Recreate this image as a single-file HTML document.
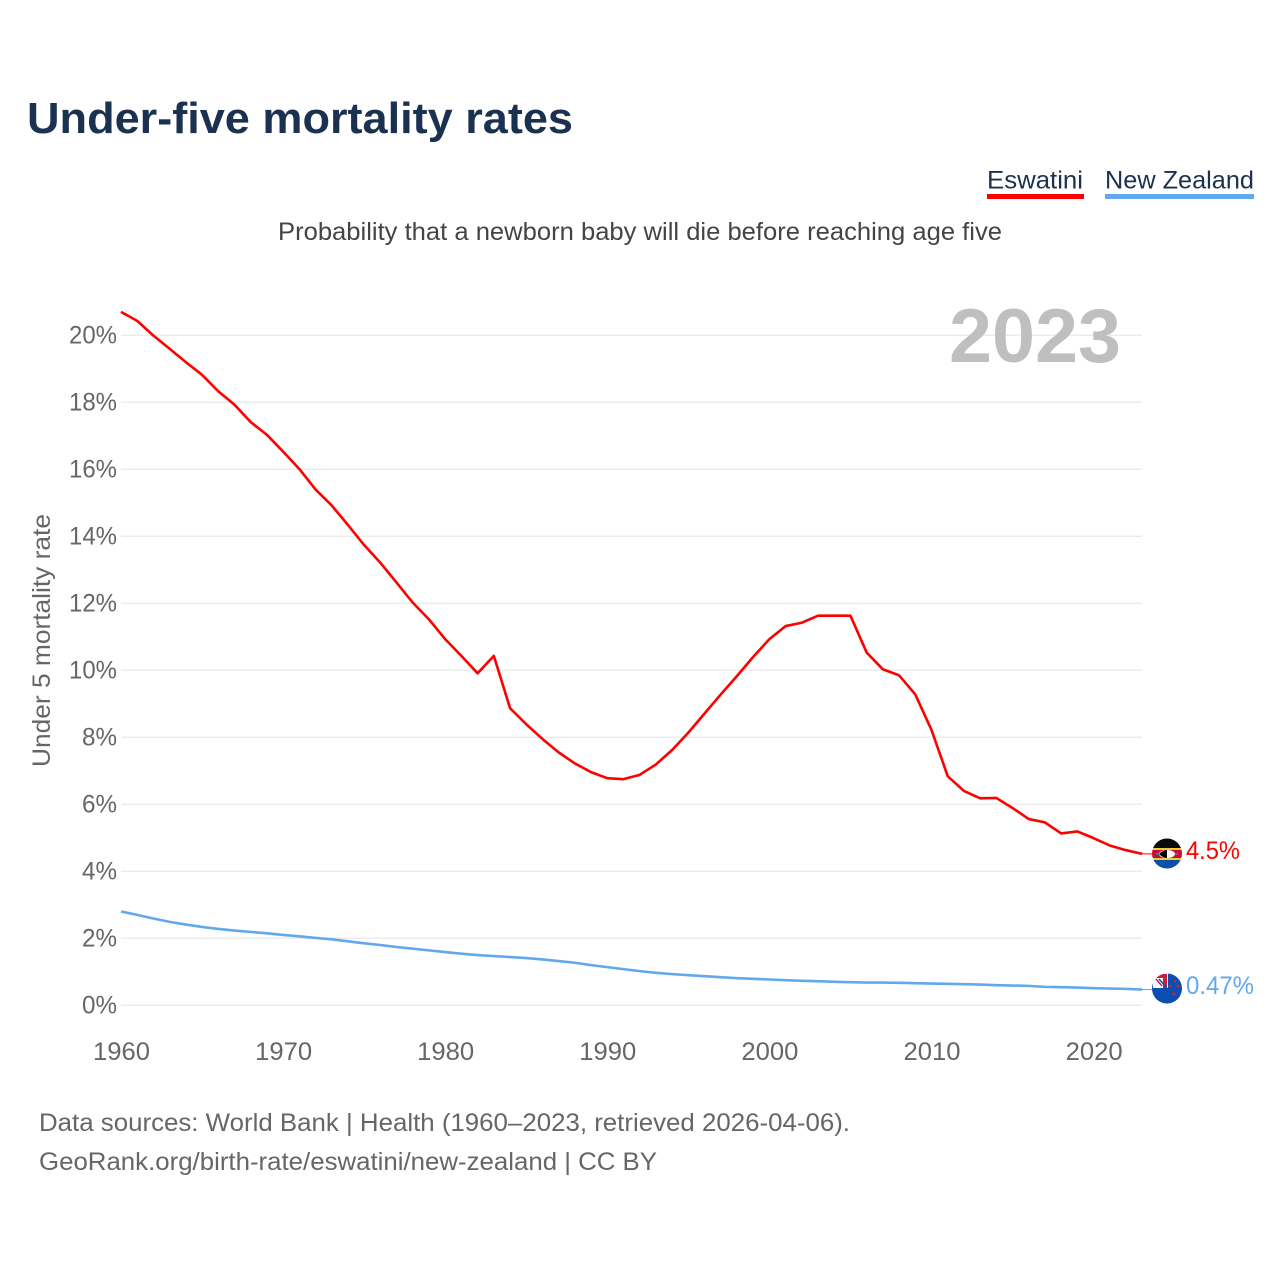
<!DOCTYPE html>
<html lang="en">
<head>
<meta charset="utf-8">
<title>Under-five mortality rates</title>
<style>
html,body{margin:0;padding:0;background:#fff;}
svg{display:block;font-family:"Liberation Sans",sans-serif;}
</style>
</head>
<body>
<svg id="chart" xmlns="http://www.w3.org/2000/svg" width="1280" height="1280" viewBox="0 0 1280 1280">
  <defs>
    <clipPath id="flag-clip-sz"><circle cx="1167" cy="853.5" r="15"/></clipPath>
    <clipPath id="flag-clip-nz"><circle cx="1167" cy="988.5" r="15"/></clipPath>
  </defs>
  <rect x="0" y="0" width="1280" height="1280" fill="#fff"/>
  <text x="27" y="133" font-size="44" font-weight="700" fill="#1a3150" textLength="546" lengthAdjust="spacingAndGlyphs">Under-five mortality rates</text>
  <g>
    <g>
      <text x="987" y="188.5" font-size="25" fill="#1a3150" textLength="96" lengthAdjust="spacingAndGlyphs">Eswatini</text>
      <rect x="987" y="194" width="97" height="5" fill="#ff0000"/>
    </g>
    <g>
      <text x="1105" y="188.5" font-size="25" fill="#1a3150" textLength="149" lengthAdjust="spacingAndGlyphs">New Zealand</text>
      <rect x="1105" y="194" width="149" height="5" fill="#62a8ec"/>
    </g>
  </g>
  <text x="278" y="240" font-size="25" fill="#444" textLength="724" lengthAdjust="spacingAndGlyphs">Probability that a newborn baby will die before reaching age five</text>
  <g id="grid"></g>
  <text x="949" y="362" font-size="76" font-weight="700" fill="#bfbfbf" textLength="172" lengthAdjust="spacingAndGlyphs">2023</text>
  <g id="y-ticks"></g>
  <g id="x-ticks"></g>
  <text transform="translate(50,767) rotate(-90)" x="0" y="0" font-size="25" fill="#666" textLength="253" lengthAdjust="spacingAndGlyphs">Under 5 mortality rate</text>
  <g id="series"></g>

  <g clip-path="url(#flag-clip-sz)">
    <rect x="1150" y="836" width="34" height="12" fill="#0b0b0b"/>
    <rect x="1150" y="848" width="34" height="2" fill="#f5c93a"/>
    <rect x="1150" y="850" width="34" height="8" fill="#c8102e"/>
    <rect x="1150" y="858" width="34" height="2" fill="#f5c93a"/>
    <rect x="1150" y="860" width="34" height="11" fill="#0b4fa8"/>
    <ellipse cx="1167" cy="854" rx="8" ry="4" fill="#fff"/>
    <path d="M1159 854 Q1163 850 1167 850 L1167 858 Q1163 858 1159 854Z" fill="#000"/>
    <rect x="1156" y="853" width="3" height="2" fill="#3a6fb0"/>
    <rect x="1175" y="853" width="3" height="2" fill="#3a6fb0"/>
  </g>
  <g clip-path="url(#flag-clip-nz)">
    <rect x="1150" y="972" width="34" height="34" fill="#0a4fb0"/>
    <rect x="1153" y="973" width="15" height="15" fill="#fff"/>
    <path d="M1153 974 H1167 V988 H1163 V978 H1153Z" fill="#c8203a"/>
    <path d="M1159 979 L1167 988" stroke="#1f4fa0" stroke-width="1.6"/>
    <path d="M1156 979 L1162 986" stroke="#c8203a" stroke-width="1.4"/>
    <circle cx="1170" cy="986" r="1.3" fill="#d0203a"/>
    <circle cx="1175" cy="981" r="1.3" fill="#d0203a"/>
    <circle cx="1178" cy="986" r="1.3" fill="#d0203a"/>
    <circle cx="1174" cy="994" r="1.6" fill="#d0203a"/>
  </g>
  <text x="1186" y="859" font-size="25" fill="#ff0000" textLength="54" lengthAdjust="spacingAndGlyphs">4.5%</text>
  <text x="1186" y="994" font-size="25" fill="#62a8ec" textLength="68" lengthAdjust="spacingAndGlyphs">0.47%</text>

  <text x="39" y="1131" font-size="25" fill="#666" textLength="811" lengthAdjust="spacingAndGlyphs">Data sources: World Bank | Health (1960–2023, retrieved 2026-04-06).</text>
  <text x="39" y="1170" font-size="25" fill="#666" textLength="618" lengthAdjust="spacingAndGlyphs">GeoRank.org/birth-rate/eswatini/new-zealand | CC BY</text>
</svg>
<script>
const startYear = 1960;
const eswatiniValues = [20.70,20.43,19.99,19.60,19.20,18.82,18.33,17.93,17.41,17.03,16.53,16.01,15.40,14.92,14.34,13.74,13.21,12.62,12.02,11.52,10.93,10.43,9.91,10.43,8.87,8.39,7.95,7.55,7.22,6.96,6.78,6.75,6.88,7.19,7.62,8.14,8.71,9.28,9.83,10.40,10.93,11.32,11.42,11.63,11.63,11.63,10.53,10.03,9.85,9.28,8.22,6.84,6.40,6.18,6.19,5.89,5.56,5.46,5.13,5.19,4.99,4.77,4.63,4.52];
const newZealandValues = [2.80,2.70,2.59,2.49,2.41,2.34,2.28,2.23,2.19,2.15,2.10,2.06,2.01,1.97,1.91,1.85,1.80,1.74,1.69,1.64,1.59,1.54,1.50,1.47,1.44,1.41,1.37,1.32,1.27,1.20,1.14,1.08,1.02,0.97,0.93,0.90,0.87,0.84,0.81,0.79,0.77,0.75,0.73,0.72,0.70,0.69,0.68,0.68,0.67,0.66,0.65,0.64,0.63,0.62,0.60,0.59,0.58,0.55,0.54,0.53,0.51,0.50,0.49,0.47];
const yTickValues = [0,2,4,6,8,10,12,14,16,18,20];
const xTickYears = [1960,1970,1980,1990,2000,2010,2020];

const SVG_NS = 'http://www.w3.org/2000/svg';
function xScale(year){ return 121 + (year - 1960) * 16.21; }
function yScale(v){ return 1005.3 - v * 33.5; }
function make(tag, attrs, parent){
  const el = document.createElementNS(SVG_NS, tag);
  for (const k in attrs) el.setAttribute(k, attrs[k]);
  parent.appendChild(el);
  return el;
}

const gridGroup = document.getElementById('grid');
const yGroup = document.getElementById('y-ticks');
yTickValues.forEach(function(v){
  const line = make('line', {x1:121, x2:1142, y1:yScale(v), y2:yScale(v), stroke:'#ececec', 'stroke-width':1.5}, gridGroup);
  
  
  const label = v + '%';
  const width = v >= 10 ? 48 : 35;
  const t = make('text', {x:117 - width, y:yScale(v) + 8, 'font-size':25, fill:'#666', textLength:width, lengthAdjust:'spacingAndGlyphs'}, yGroup);
  t.textContent = label;
  
  
});

const xGroup = document.getElementById('x-ticks');
xTickYears.forEach(function(yr){
  const t = make('text', {x:xScale(yr) - 28, y:1060, 'font-size':25, fill:'#666', textLength:57, lengthAdjust:'spacingAndGlyphs'}, xGroup);
  t.textContent = String(yr);
  
  
});

function linePoints(values){
  return values.map(function(v, i){
    return xScale(startYear + i).toFixed(2) + ',' + yScale(v).toFixed(2);
  }).join(' ');
}
const seriesGroup = document.getElementById('series');

const nzConnector = make('line', {x1:xScale(startYear + newZealandValues.length - 1), x2:1153, y1:yScale(newZealandValues[newZealandValues.length - 1]), y2:yScale(newZealandValues[newZealandValues.length - 1]), stroke:'#62a8ec', 'stroke-width':1}, seriesGroup);



const szConnector = make('line', {x1:xScale(startYear + eswatiniValues.length - 1), x2:1153, y1:yScale(eswatiniValues[eswatiniValues.length - 1]), y2:yScale(eswatiniValues[eswatiniValues.length - 1]), stroke:'#ff0000', 'stroke-width':1}, seriesGroup);



const nzLine = make('polyline', {points:linePoints(newZealandValues), fill:'none', stroke:'#62a8ec', 'stroke-width':2.6, 'stroke-linejoin':'round'}, seriesGroup);



const szLine = make('polyline', {points:linePoints(eswatiniValues), fill:'none', stroke:'#ff0000', 'stroke-width':2.6, 'stroke-linejoin':'round'}, seriesGroup);


</script>
</body>
</html>
